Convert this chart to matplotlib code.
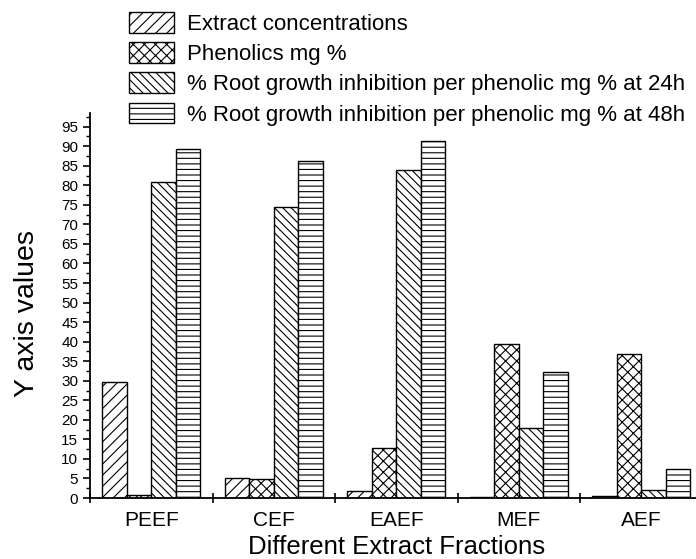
import numpy as np
import matplotlib
matplotlib.use("Agg")
import matplotlib.pyplot as plt
from matplotlib.ticker import MultipleLocator, FixedLocator

plt.rcParams['font.family'] = ['Liberation Sans', 'DejaVu Sans']
plt.rcParams['hatch.linewidth'] = 0.8

fractions = ['PEEF', 'CEF', 'EAEF', 'MEF', 'AEF']
series_names = ['Extract concentrations',
                'Phenolics mg %',
                '% Root growth inhibition per phenolic mg % at 24h',
                '% Root growth inhibition per phenolic mg % at 48h']
extract_conc = [29.8, 5.0, 1.8, 0.35, 0.4]
phenolics = [0.7, 4.8, 12.7, 39.3, 36.8]
inhib_24h = [80.9, 74.4, 83.9, 17.9, 2.0]
inhib_48h = [89.2, 86.2, 91.3, 32.3, 7.5]
hatches = ['///', 'xxx', '\\\\\\\\', '---']

fig = plt.figure(figsize=(6.96, 5.59), dpi=100)
ax = fig.add_axes([90/696, 1-498/559, 612.5/696, 385/559])

x = np.arange(len(fractions))
w = 0.2
handles = []
for i, vals in enumerate([extract_conc, phenolics, inhib_24h, inhib_48h]):
    b = ax.bar(x + (i - 1.5)*w, vals, w, facecolor='white', edgecolor='black',
               linewidth=1.0, hatch=hatches[i], label=series_names[i])
    handles.append(b)

ax.set_xlim(-0.5, 4.5)
ax.set_ylim(0, 98.5)
ax.spines['top'].set_visible(False)
ax.spines['right'].set_visible(False)
ax.spines['left'].set_linewidth(1.3)
ax.spines['bottom'].set_linewidth(1.3)

ax.set_xticks(x)
ax.set_xticklabels(fractions, fontsize=15)
ax.xaxis.set_minor_locator(FixedLocator(np.arange(-0.5, 5, 1)))
ax.tick_params(axis='x', which='major', length=0, pad=9)
ax.tick_params(axis='x', which='minor', length=7, width=1.2, direction='inout')

ax.yaxis.set_minor_locator(MultipleLocator(2.5))
ax.set_yticks(np.arange(0, 96, 5))
ax.tick_params(axis='y', which='major', length=5, width=1.2, direction='out', labelsize=11)
ax.tick_params(axis='y', which='minor', length=3, width=1.0, direction='out')

ax.set_xlabel('Different Extract Fractions', fontsize=18.5)
ax.xaxis.set_label_coords(0.5, (498-535)/385)
ax.set_ylabel('Y axis values', fontsize=20.5)
ax.yaxis.set_label_coords((40-90)/612.5, 0.48)

fig.legend(handles=handles, loc='upper left', bbox_to_anchor=(129/696, 1-12/559),
           frameon=False, fontsize=16, handlelength=2.03, handleheight=1.05,
           handletextpad=0.6, labelspacing=0.33, borderpad=0, borderaxespad=0)

fig.savefig('out.png', dpi=100)
